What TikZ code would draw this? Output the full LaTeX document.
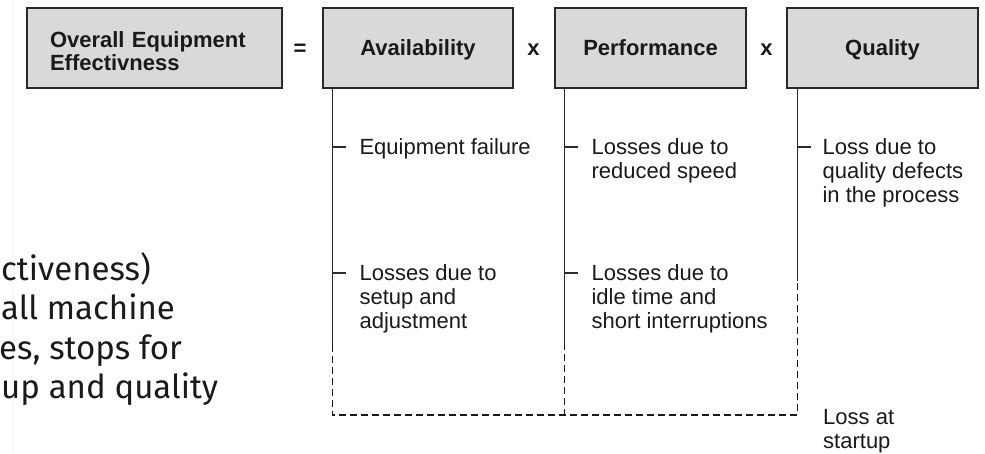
\documentclass[tikz,border=0pt]{standalone}
\usepackage{fontspec}
\setmainfont{Liberation Sans}
\newfontfamily\firafont{Fira Sans}
\definecolor{boxfill}{HTML}{D9D9D9}
\definecolor{ink}{HTML}{1A1A1A}
\definecolor{linec}{HTML}{2A2A2A}
\newcommand\mytl[1]{\begin{tabular}[t]{@{}l@{}}#1\end{tabular}}
\begin{document}
\begin{tikzpicture}[x=1pt,y=-1pt,
  hbox/.style={draw=linec,line width=1.3pt,fill=boxfill,minimum height=80pt,
    inner sep=0pt,font=\fontsize{22}{23.5}\selectfont\bfseries,text=ink},
  opsign/.style={font=\fontsize{22}{23.5}\selectfont\bfseries,text=ink,inner sep=0pt},
  vline/.style={draw=linec,line width=1.25pt},
  dline/.style={draw=ink,line width=1.45pt,dash pattern=on 7pt off 4pt},
  tick/.style={draw=linec,line width=1.1pt},
  loss/.style={anchor=base west,inner sep=0pt,text=ink,
    font=\fontsize{22}{24.2}\selectfont},
  sidetxt/.style={anchor=base west,inner sep=0pt,text=ink,
    font=\firafont\fontsize{33}{38}\selectfont}]
\useasboundingbox[fill=white] (0,0) rectangle (985,454);
\draw[gray!8,line width=0.8pt] (13,0) -- (13,454);
% header boxes
\node[hbox,minimum width=255pt,text width=209pt,align=left,inner xsep=23pt]
  (oee) at (154.5,48) {\rule{0pt}{22pt}Overall Equipment\\Effectivness};
\node[hbox,minimum width=190pt,text height=16pt,text depth=0pt] (avail) at (418,48) {Availability};
\node[hbox,minimum width=191pt,text height=16pt,text depth=0pt] (perf) at (650.5,48) {Performance};
\node[hbox,minimum width=191pt,text height=16pt,text depth=0pt] (qual) at (882.5,48) {Quality};
\node[opsign,anchor=base] (eq) at (300,56) {=};
\node[opsign,anchor=base] (x1) at (533.5,56) {x};
\node[opsign,anchor=base] (x2) at (766.5,56) {x};
% stems
\coordinate (a0) at ([xshift=10pt]avail.south west);
\coordinate (p0) at ([xshift=10pt]perf.south west);
\coordinate (q0) at ([xshift=11pt]qual.south west);
\coordinate (a1) at (a0 |- 0,147);
\coordinate (a2) at (a0 |- 0,273);
\coordinate (a3) at (a0 |- 0,345);
\coordinate (a4) at (a0 |- 0,415);
\coordinate (p1) at (p0 |- 0,147);
\coordinate (p2) at (p0 |- 0,273);
\coordinate (p3) at (p0 |- 0,343);
\coordinate (p4) at (p0 |- 0,415);
\coordinate (q1) at (q0 |- 0,147);
\coordinate (q3) at (q0 |- 0,281);
\coordinate (q4) at (q0 |- 0,415);
\draw[vline] (a0) -- (a3);
\draw[vline] (p0) -- (p3);
\draw[vline] (q0) -- (q3);
\draw[dline] (a3) -- (a4) -- (p4) -- (q4) -- (q3);
\draw[dline] (p3) -- (p4);
% ticks
\draw[tick] (a1) -- ++(13.5,0);
\draw[tick] (a2) -- ++(13.5,0);
\draw[tick] (p1) -- ++(13.5,0);
\draw[tick] (p2) -- ++(13.5,0);
\draw[tick] (q1) -- ++(13.5,0);
% loss texts
\node[loss] (l1) at ([xshift=27pt,yshift=-7.5pt]a1) {\mytl{Equipment failure}};
\node[loss] (l2) at ([xshift=27pt,yshift=-7.5pt]a2) {\mytl{Losses due to\\setup and\\adjustment}};
\node[loss] (l3) at ([xshift=27pt,yshift=-7.5pt]p1) {\mytl{Losses due to\\reduced speed}};
\node[loss] (l4) at ([xshift=27pt,yshift=-7.5pt]p2) {\mytl{Losses due to\\idle time and\\short interruptions}};
\node[loss] (l5) at ([xshift=25pt,yshift=-7.5pt]q1) {\mytl{Loss due to\\quality defects\\in the process}};
\node[loss] (l6) at (823,424.5) {\mytl{Loss at\\startup}};
% clipped side text
\node[sidetxt] (s1) at (1,280) {ctiveness)};
\node[sidetxt] (s2) at (1,319.5) {all machine};
\node[sidetxt] (s3) at (-1,359) {es, stops for};
\node[sidetxt] (s4) at (1,398.5) {up and quality};
\end{tikzpicture}
\end{document}
